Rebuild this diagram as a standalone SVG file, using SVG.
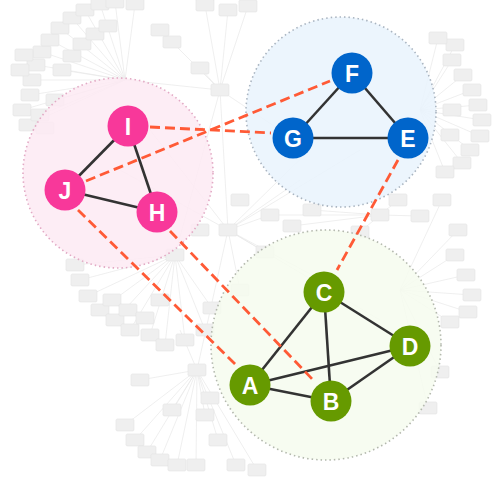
<svg xmlns="http://www.w3.org/2000/svg" xmlns:xlink="http://www.w3.org/1999/xlink" width="500" height="479" viewBox="0 0 500 479">
<style>
.bg line{stroke:#e8e8e8;stroke-width:0.7}
.grp{stroke-width:1.6;stroke-dasharray:1.5 3}
.edge{stroke:#333;stroke-width:2.6;fill:none}
.link{stroke:#ff5a36;stroke-width:2.8;stroke-dasharray:10 5;fill:none}
.node text{font-family:"Liberation Sans",Arial,sans-serif;font-weight:bold;font-size:23px;fill:#fff;text-anchor:middle;dominant-baseline:central}
.pink circle{fill:#f8389a}
.blue circle{fill:#0065cb}
.green circle{fill:#669a00}
</style>
<defs>
<rect id="n" x="-9" y="-6" width="18" height="12" rx="1.5" fill="#efefef" stroke="#e3e3e3" stroke-width="0.6"/>
</defs>
<rect width="500" height="479" fill="#fff"/>
<g class="bg" id="background">
<g>
<line x1="125" y1="80" x2="30" y2="95"/><line x1="125" y1="80" x2="32" y2="80"/><line x1="125" y1="80" x2="36" y2="65"/><line x1="125" y1="80" x2="42" y2="52"/><line x1="125" y1="80" x2="50" y2="40"/><line x1="125" y1="80" x2="60" y2="28"/><line x1="125" y1="80" x2="72" y2="18"/><line x1="125" y1="80" x2="85" y2="10"/><line x1="125" y1="80" x2="100" y2="4"/><line x1="125" y1="80" x2="115" y2="2"/><line x1="125" y1="80" x2="135" y2="4"/><line x1="125" y1="80" x2="22" y2="110"/><line x1="125" y1="80" x2="28" y2="125"/><line x1="125" y1="80" x2="40" y2="115"/><line x1="125" y1="80" x2="55" y2="100"/><line x1="125" y1="80" x2="62" y2="70"/>
<line x1="125" y1="80" x2="220" y2="90"/><line x1="220" y1="90" x2="205" y2="5"/><line x1="220" y1="90" x2="228" y2="10"/><line x1="220" y1="90" x2="248" y2="6"/><line x1="220" y1="90" x2="172" y2="42"/><line x1="220" y1="90" x2="200" y2="68"/><line x1="220" y1="90" x2="228" y2="230"/><line x1="220" y1="90" x2="292" y2="138"/><line x1="220" y1="90" x2="175" y2="255"/>
<line x1="228" y1="230" x2="330" y2="130"/><line x1="228" y1="230" x2="360" y2="150"/><line x1="228" y1="230" x2="300" y2="180"/><line x1="228" y1="230" x2="340" y2="290"/><line x1="228" y1="230" x2="380" y2="320"/><line x1="228" y1="230" x2="270" y2="215"/><line x1="228" y1="230" x2="240" y2="290"/><line x1="228" y1="230" x2="265" y2="252"/><line x1="228" y1="230" x2="197" y2="370"/><line x1="228" y1="230" x2="150" y2="130"/><line x1="228" y1="230" x2="120" y2="170"/>
<line x1="175" y1="255" x2="80" y2="280"/><line x1="175" y1="255" x2="88" y2="296"/><line x1="175" y1="255" x2="100" y2="310"/><line x1="175" y1="255" x2="115" y2="320"/><line x1="175" y1="255" x2="130" y2="330"/><line x1="175" y1="255" x2="75" y2="265"/><line x1="175" y1="255" x2="150" y2="335"/><line x1="175" y1="255" x2="165" y2="345"/><line x1="175" y1="255" x2="185" y2="340"/><line x1="175" y1="255" x2="205" y2="330"/><line x1="175" y1="255" x2="212" y2="308"/>
<line x1="197" y1="370" x2="125" y2="425"/><line x1="197" y1="370" x2="135" y2="440"/><line x1="197" y1="370" x2="147" y2="452"/><line x1="197" y1="370" x2="160" y2="460"/><line x1="197" y1="370" x2="177" y2="465"/><line x1="197" y1="370" x2="196" y2="465"/><line x1="197" y1="370" x2="140" y2="380"/><line x1="197" y1="370" x2="172" y2="410"/><line x1="197" y1="370" x2="205" y2="415"/><line x1="197" y1="370" x2="218" y2="440"/><line x1="197" y1="370" x2="236" y2="465"/><line x1="197" y1="370" x2="257" y2="470"/><line x1="197" y1="370" x2="180" y2="330"/>
<line x1="420" y1="110" x2="452" y2="60"/><line x1="420" y1="110" x2="463" y2="75"/><line x1="420" y1="110" x2="472" y2="90"/><line x1="420" y1="110" x2="478" y2="105"/><line x1="420" y1="110" x2="482" y2="120"/><line x1="420" y1="110" x2="480" y2="136"/><line x1="420" y1="110" x2="470" y2="150"/><line x1="420" y1="110" x2="462" y2="163"/><line x1="420" y1="110" x2="445" y2="172"/><line x1="420" y1="110" x2="455" y2="45"/><line x1="420" y1="110" x2="438" y2="38"/>
<line x1="400" y1="290" x2="455" y2="255"/><line x1="400" y1="290" x2="466" y2="275"/><line x1="400" y1="290" x2="472" y2="295"/><line x1="400" y1="290" x2="468" y2="312"/><line x1="400" y1="290" x2="450" y2="322"/><line x1="400" y1="290" x2="442" y2="200"/><line x1="400" y1="290" x2="458" y2="230"/><line x1="400" y1="290" x2="440" y2="372"/><line x1="400" y1="290" x2="428" y2="408"/>
<line x1="380" y1="215" x2="270" y2="215"/><line x1="380" y1="215" x2="292" y2="226"/><line x1="380" y1="215" x2="312" y2="210"/><line x1="380" y1="215" x2="360" y2="232"/><line x1="380" y1="215" x2="398" y2="200"/><line x1="380" y1="215" x2="420" y2="216"/>
</g>
<g>
<use href="#n" x="30" y="95"/><use href="#n" x="32" y="80"/><use href="#n" x="36" y="65"/><use href="#n" x="42" y="52"/><use href="#n" x="50" y="40"/><use href="#n" x="60" y="28"/><use href="#n" x="72" y="18"/><use href="#n" x="85" y="10"/><use href="#n" x="100" y="4"/><use href="#n" x="115" y="2"/><use href="#n" x="135" y="4"/><use href="#n" x="22" y="110"/><use href="#n" x="28" y="125"/><use href="#n" x="40" y="115"/><use href="#n" x="55" y="100"/><use href="#n" x="62" y="70"/><use href="#n" x="72" y="56"/><use href="#n" x="82" y="44"/><use href="#n" x="95" y="34"/><use href="#n" x="108" y="26"/><use href="#n" x="20" y="70"/><use href="#n" x="24" y="55"/><use href="#n" x="45" y="128"/>
<use href="#n" x="220" y="90"/><use href="#n" x="205" y="5"/><use href="#n" x="228" y="10"/><use href="#n" x="248" y="6"/><use href="#n" x="172" y="42"/><use href="#n" x="200" y="68"/><use href="#n" x="160" y="30"/>
<use href="#n" x="228" y="230"/><use href="#n" x="270" y="215"/><use href="#n" x="240" y="290"/><use href="#n" x="265" y="252"/><use href="#n" x="200" y="230"/><use href="#n" x="240" y="200"/>
<use href="#n" x="175" y="255"/><use href="#n" x="80" y="280"/><use href="#n" x="88" y="296"/><use href="#n" x="100" y="310"/><use href="#n" x="115" y="320"/><use href="#n" x="130" y="330"/><use href="#n" x="75" y="265"/><use href="#n" x="150" y="335"/><use href="#n" x="165" y="345"/><use href="#n" x="185" y="340"/><use href="#n" x="205" y="330"/><use href="#n" x="212" y="308"/><use href="#n" x="112" y="300"/><use href="#n" x="128" y="310"/><use href="#n" x="145" y="318"/><use href="#n" x="160" y="300"/>
<use href="#n" x="197" y="370"/><use href="#n" x="125" y="425"/><use href="#n" x="135" y="440"/><use href="#n" x="147" y="452"/><use href="#n" x="160" y="460"/><use href="#n" x="177" y="465"/><use href="#n" x="196" y="465"/><use href="#n" x="140" y="380"/><use href="#n" x="172" y="410"/><use href="#n" x="205" y="415"/><use href="#n" x="218" y="440"/><use href="#n" x="236" y="465"/><use href="#n" x="257" y="470"/><use href="#n" x="210" y="398"/>
<use href="#n" x="452" y="60"/><use href="#n" x="463" y="75"/><use href="#n" x="472" y="90"/><use href="#n" x="478" y="105"/><use href="#n" x="482" y="120"/><use href="#n" x="480" y="136"/><use href="#n" x="470" y="150"/><use href="#n" x="462" y="163"/><use href="#n" x="445" y="172"/><use href="#n" x="455" y="45"/><use href="#n" x="438" y="38"/><use href="#n" x="452" y="110"/><use href="#n" x="450" y="135"/>
<use href="#n" x="455" y="255"/><use href="#n" x="466" y="275"/><use href="#n" x="472" y="295"/><use href="#n" x="468" y="312"/><use href="#n" x="450" y="322"/><use href="#n" x="442" y="200"/><use href="#n" x="458" y="230"/><use href="#n" x="440" y="372"/><use href="#n" x="428" y="408"/>
<use href="#n" x="292" y="226"/><use href="#n" x="312" y="210"/><use href="#n" x="360" y="232"/><use href="#n" x="398" y="200"/><use href="#n" x="420" y="216"/><use href="#n" x="380" y="215"/>
</g>
</g>
<g id="groups">
<circle id="group-pink" class="grp" cx="118" cy="173" r="95" fill="#fdeaf3" fill-opacity="0.85" stroke="#e2a9c4"/>
<circle id="group-blue" class="grp" cx="341" cy="112" r="95" fill="#e9f3fd" fill-opacity="0.85" stroke="#a9b4c0"/>
<circle id="group-green" class="grp" cx="326" cy="345" r="115" fill="#f6fbee" fill-opacity="0.85" stroke="#b3b8ad"/>
</g>
<g id="connectors">
<line class="edge" x1="128" y1="126" x2="65" y2="190"/>
<line class="edge" x1="128" y1="126" x2="157" y2="212"/>
<line class="edge" x1="65" y1="190" x2="157" y2="212"/>
<line class="edge" x1="352" y1="73" x2="293" y2="138"/>
<line class="edge" x1="352" y1="73" x2="408" y2="138"/>
<line class="edge" x1="293" y1="138" x2="408" y2="138"/>
<line class="edge" x1="324" y1="292" x2="250" y2="385"/>
<line class="edge" x1="324" y1="292" x2="331" y2="401"/>
<line class="edge" x1="324" y1="292" x2="410" y2="346"/>
<line class="edge" x1="250" y1="385" x2="410" y2="346"/>
<line class="edge" x1="250" y1="385" x2="331" y2="401"/>
<line class="edge" x1="331" y1="401" x2="410" y2="346"/>
<line class="link" x1="150" y1="127" x2="271" y2="133"/>
<line class="link" x1="86" y1="181" x2="330" y2="81"/>
<line class="link" x1="78" y1="210" x2="237" y2="366"/>
<line class="link" x1="170" y1="231" x2="315" y2="382"/>
<line class="link" x1="398" y1="160" x2="337" y2="270"/>
</g>
<g id="node-I" class="node pink"><circle cx="128" cy="126" r="20.5"/><text x="128" y="127">I</text></g>
<g id="node-J" class="node pink"><circle cx="65" cy="190" r="20.5"/><text x="65" y="191">J</text></g>
<g id="node-H" class="node pink"><circle cx="157" cy="212" r="20.5"/><text x="157" y="213">H</text></g>
<g id="node-F" class="node blue"><circle cx="352" cy="73" r="20.5"/><text x="352" y="74">F</text></g>
<g id="node-G" class="node blue"><circle cx="293" cy="138" r="20.5"/><text x="293" y="139">G</text></g>
<g id="node-E" class="node blue"><circle cx="408" cy="138" r="20.5"/><text x="408" y="139">E</text></g>
<g id="node-C" class="node green"><circle cx="324" cy="292" r="20.5"/><text x="324" y="293">C</text></g>
<g id="node-D" class="node green"><circle cx="410" cy="346" r="20.5"/><text x="410" y="347">D</text></g>
<g id="node-A" class="node green"><circle cx="250" cy="385" r="20.5"/><text x="250" y="386">A</text></g>
<g id="node-B" class="node green"><circle cx="331" cy="401" r="20.5"/><text x="331" y="402">B</text></g>
</svg>
